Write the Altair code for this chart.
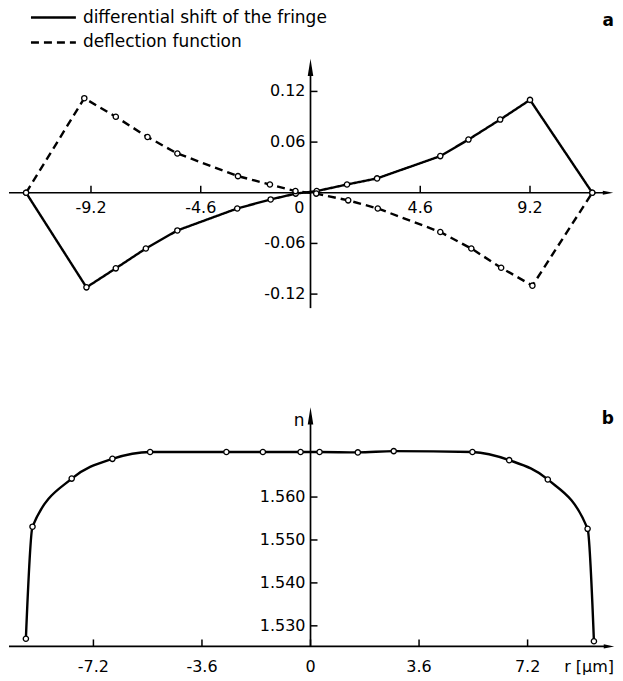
import altair as alt
import pandas as pd

FONT = "DejaVu Sans"

# ---------------- panel a ----------------
SHIFT = "differential shift of the fringe"
DEFL = "deflection function"

shift_r = [-11.92, -9.39, -8.16, -6.90, -5.58, -3.07, -1.67, -0.62, 0.26, 1.53, 2.79, 5.44, 6.62, 7.95, 9.20, 11.81]
shift_v = [0.0, -0.112, -0.0895, -0.066, -0.0446, -0.0186, -0.0079, -0.001, 0.002, 0.0098, 0.017, 0.0434, 0.063, 0.0867, 0.110, 0.0]
defl_r = [-11.92, -9.48, -8.16, -6.83, -5.58, -3.04, -1.70, -0.63, 0.24, 1.58, 2.82, 5.44, 6.74, 7.99, 9.30, 11.81]
defl_v = [0.0, 0.112, 0.090, 0.066, 0.0465, 0.0197, 0.0098, 0.002, -0.001, -0.009, -0.0186, -0.0465, -0.066, -0.0888, -0.110, 0.0]

a_xticks = [-9.2, -4.6, 4.6, 9.2]
a_xlabels = ["-9.2", "-4.6", "4.6", "9.2"]
a_yticks = [-0.12, -0.06, 0.06, 0.12]
a_ylabels = ["-0.12", "-0.06", "0.06", "0.12"]
a_xdomain = [-12.636, 12.762]
a_ydomain = [-0.1448, 0.2146]
a_xaxis = [-12.636, 12.30]
a_yaxis = [-0.1366, 0.140]
a_xarrow = 12.47
a_yarrow = 0.1484

# ---------------- panel b ----------------
n_r = [-9.44, -9.22, -7.92, -6.57, -5.32, -2.79, -1.58, -0.33, 0.30, 1.57, 2.76, 5.37, 6.59, 7.87, 9.19, 9.40]
n_v = [1.5270, 1.5531, 1.5643, 1.5689, 1.5705, 1.5705, 1.5705, 1.5705, 1.5705, 1.5704, 1.5707, 1.5705, 1.5686, 1.5641, 1.5526, 1.5264]

b_xticks = [-7.2, -3.6, 0.0, 3.6, 7.2]
b_xlabels = ["-7.2", "-3.6", "0", "3.6", "7.2"]
b_yticks = [1.53, 1.54, 1.55, 1.56]
b_ylabels = ["1.530", "1.540", "1.550", "1.560"]
b_xdomain = [-10.0, 10.099]
b_ydomain = [1.51844, 1.58426]
b_xaxis = [-10.0, 9.77]
b_yaxis = [1.5252, 1.5771]
b_xarrow = 9.90
b_yarrow = 1.5789
b_base = 1.5252

W = 607
HA = 304
HB = 283
TICK_FS = 16

UP = "M0,-1L0.32,1L-0.32,1Z"
RIGHT = "M1,0L-1,-0.4L-1,0.4Z"


def axes_layers(xs, ys, xaxis, yaxis, xarrow, yarrow, ybase, xticks, xlabels,
                yticks, ylabels, xlab_dy, extra_zero=False):
    xline = alt.Chart(pd.DataFrame({"x": [xaxis[0]], "x2": [xaxis[1]], "y": [ybase]})).mark_rule(
        color="black", strokeWidth=1.7).encode(x=alt.X("x:Q", scale=xs, axis=None), x2="x2:Q",
                                                y=alt.Y("y:Q", scale=ys, axis=None))
    yline = alt.Chart(pd.DataFrame({"y": [yaxis[0]], "y2": [yaxis[1]], "x": [0.0]})).mark_rule(
        color="black", strokeWidth=1.7).encode(y=alt.Y("y:Q", scale=ys, axis=None), y2="y2:Q",
                                                x=alt.X("x:Q", scale=xs, axis=None))
    xarr = alt.Chart(pd.DataFrame({"x": [xarrow], "y": [ybase]})).mark_point(
        shape=RIGHT, filled=True, color="black", opacity=1, size=110).encode(
        x=alt.X("x:Q", scale=xs, axis=None), y=alt.Y("y:Q", scale=ys, axis=None))
    yarr = alt.Chart(pd.DataFrame({"x": [0.0], "y": [yarrow]})).mark_point(
        shape=UP, filled=True, color="black", opacity=1, size=300).encode(
        x=alt.X("x:Q", scale=xs, axis=None), y=alt.Y("y:Q", scale=ys, axis=None))
    xt = pd.DataFrame({"x": xticks, "y": [ybase] * len(xticks), "lab": xlabels})
    xtick = alt.Chart(xt).mark_rule(color="black", strokeWidth=1.5, y2Offset=-7).encode(
        x=alt.X("x:Q", scale=xs, axis=None), y=alt.Y("y:Q", scale=ys, axis=None), y2="y:Q")
    xtext = alt.Chart(xt).mark_text(font=FONT, fontSize=TICK_FS, dy=xlab_dy, align="center",
                                    baseline="middle", color="black").encode(
        x=alt.X("x:Q", scale=xs, axis=None), y=alt.Y("y:Q", scale=ys, axis=None), text="lab:N")
    yt = pd.DataFrame({"y": yticks, "x": [0.0] * len(yticks), "lab": ylabels})
    ytick = alt.Chart(yt).mark_rule(color="black", strokeWidth=1.5, x2Offset=7).encode(
        y=alt.Y("y:Q", scale=ys, axis=None), x=alt.X("x:Q", scale=xs, axis=None), x2="x:Q")
    ytext = alt.Chart(yt).mark_text(font=FONT, fontSize=TICK_FS, dx=-5, align="right",
                                    baseline="middle", color="black").encode(
        x=alt.X("x:Q", scale=xs, axis=None), y=alt.Y("y:Q", scale=ys, axis=None), text="lab:N")
    layers = [xline, yline, xarr, yarr, xtick, xtext, ytick, ytext]
    if extra_zero:
        z = alt.Chart(pd.DataFrame({"x": [0.0], "y": [ybase], "lab": ["0"]})).mark_text(
            font=FONT, fontSize=TICK_FS, dx=-6, dy=xlab_dy, align="right", baseline="middle",
            color="black").encode(x=alt.X("x:Q", scale=xs, axis=None),
                                  y=alt.Y("y:Q", scale=ys, axis=None), text="lab:N")
        layers.append(z)
    return layers


# ---- panel a ----
xs_a = alt.Scale(domain=a_xdomain, nice=False, zero=False)
ys_a = alt.Scale(domain=a_ydomain, nice=False, zero=False)

df_a = pd.concat([
    pd.DataFrame({"r": shift_r, "v": shift_v, "series": SHIFT, "k": list(range(len(shift_r)))}),
    pd.DataFrame({"r": defl_r, "v": defl_v, "series": DEFL, "k": list(range(len(defl_r)))}),
])

dash_scale = alt.Scale(domain=[SHIFT, DEFL], range=[[1, 0], [8, 5]])

lines_a = alt.Chart(df_a).mark_line(color="black", strokeWidth=2.4).encode(
    x=alt.X("r:Q", scale=xs_a, axis=None),
    y=alt.Y("v:Q", scale=ys_a, axis=None),
    order="k:Q",
    strokeDash=alt.StrokeDash("series:N", scale=dash_scale, legend=None))
pts_a = alt.Chart(df_a).mark_point(shape="circle", filled=True, fill="white", stroke="black",
                                   strokeWidth=1.3, size=28, opacity=1).encode(
    x=alt.X("r:Q", scale=xs_a, axis=None), y=alt.Y("v:Q", scale=ys_a, axis=None))

# key (top left)
key_df = pd.DataFrame({"series": [SHIFT, DEFL], "row": [0.0, 1.0]})
key_y = alt.Scale(domain=[0, 1], range=[6, 31], nice=False, zero=False)
key_lines = alt.Chart(key_df).mark_rule(color="black", strokeWidth=2.4).encode(
    x=alt.value(22), x2=alt.value(67),
    y=alt.Y("row:Q", scale=key_y, axis=None),
    strokeDash=alt.StrokeDash("series:N", scale=dash_scale, legend=None))
key_text = alt.Chart(key_df).mark_text(font=FONT, fontSize=17, align="left", baseline="middle",
                                       color="black").encode(
    x=alt.value(74),
    y=alt.Y("row:Q", scale=key_y, axis=None),
    text="series:N")
key = alt.layer(key_lines, key_text)

lab_a = alt.Chart(pd.DataFrame({"t": ["a"]})).mark_text(
    font=FONT, fontSize=17, fontWeight="bold", align="right", baseline="middle",
    color="black").encode(x=alt.value(606), y=alt.value(9), text="t:N")

data_a = alt.layer(
    *axes_layers(xs_a, ys_a, a_xaxis, a_yaxis, a_xarrow, a_yarrow, 0.0, a_xticks, a_xlabels,
                 a_yticks, a_ylabels, 15, extra_zero=True),
    lines_a, pts_a, lab_a
)

panel_a = alt.layer(data_a, key).resolve_scale(y="independent").properties(width=W, height=HA)

# ---- panel b ----
xs_b = alt.Scale(domain=b_xdomain, nice=False, zero=False)
ys_b = alt.Scale(domain=b_ydomain, nice=False, zero=False)
df_b = pd.DataFrame({"r": n_r, "n": n_v})

line_b = alt.Chart(df_b).mark_line(color="black", strokeWidth=2.4, interpolate="monotone").encode(
    x=alt.X("r:Q", scale=xs_b, axis=None), y=alt.Y("n:Q", scale=ys_b, axis=None))
pts_b = alt.Chart(df_b).mark_point(shape="circle", filled=True, fill="white", stroke="black",
                                   strokeWidth=1.3, size=28, opacity=1).encode(
    x=alt.X("r:Q", scale=xs_b, axis=None), y=alt.Y("n:Q", scale=ys_b, axis=None))
n_lab = alt.Chart(pd.DataFrame({"x": [0.0], "y": [1.5777], "t": ["n"]})).mark_text(
    font=FONT, fontSize=17, align="right", baseline="middle", dx=-6, color="black").encode(
    x=alt.X("x:Q", scale=xs_b, axis=None), y=alt.Y("y:Q", scale=ys_b, axis=None), text="t:N")
r_lab = alt.Chart(pd.DataFrame({"x": [b_xdomain[1]], "y": [b_base], "t": ["r [μm]"]})).mark_text(
    font=FONT, fontSize=16, align="right", baseline="middle", dy=21, dx=-1, color="black").encode(
    x=alt.X("x:Q", scale=xs_b, axis=None), y=alt.Y("y:Q", scale=ys_b, axis=None), text="t:N")
lab_b = alt.Chart(pd.DataFrame({"t": ["b"]})).mark_text(
    font=FONT, fontSize=17, fontWeight="bold", align="right", baseline="middle",
    color="black").encode(x=alt.value(606), y=alt.value(26), text="t:N")

panel_b = alt.layer(
    *axes_layers(xs_b, ys_b, b_xaxis, b_yaxis, b_xarrow, b_yarrow, b_base, b_xticks, b_xlabels,
                 b_yticks, b_ylabels, 21),
    line_b, pts_b, n_lab, r_lab, lab_b
).properties(width=W, height=HB)

chart = alt.vconcat(panel_a, panel_b, spacing=78).resolve_scale(
    strokeDash="independent").properties(padding=0, background="white").configure_view(
    strokeWidth=0, stroke=None)

chart.save("out.html", embed_options={"renderer": "svg", "actions": False})
